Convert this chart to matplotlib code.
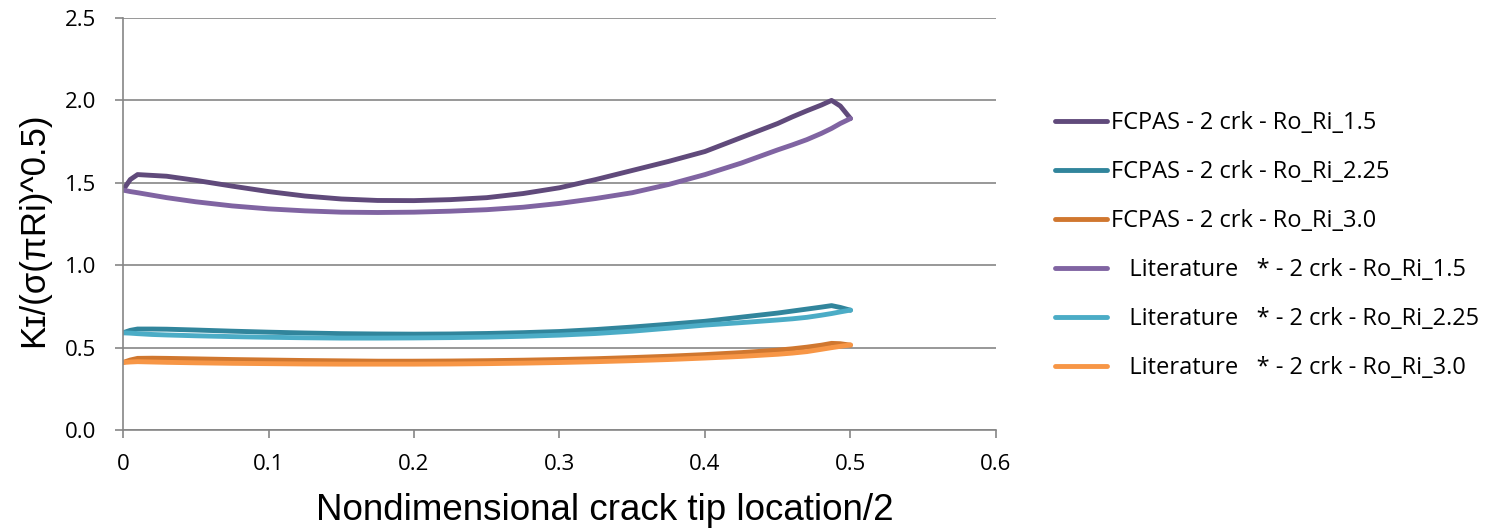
import matplotlib.pyplot as plt

# crack tip positions (shared by all series)
x = [0, 0.005, 0.01, 0.02, 0.03, 0.05, 0.075, 0.1, 0.125, 0.15, 0.175, 0.2, 0.225, 0.25,
     0.275, 0.3, 0.325, 0.35, 0.375, 0.4, 0.425, 0.45, 0.46, 0.47, 0.48, 0.487, 0.493, 0.5]

fcpas_15 = [1.456, 1.52, 1.55, 1.545, 1.54, 1.515, 1.48, 1.447, 1.42, 1.402, 1.393, 1.392, 1.398, 1.41,
            1.435, 1.47, 1.52, 1.575, 1.63, 1.69, 1.775, 1.86, 1.9, 1.937, 1.972, 2.0, 1.966, 1.89]
fcpas_225 = [0.59, 0.605, 0.613, 0.613, 0.612, 0.607, 0.6, 0.594, 0.589, 0.585, 0.583, 0.582, 0.583, 0.586,
             0.591, 0.598, 0.61, 0.625, 0.642, 0.66, 0.685, 0.71, 0.722, 0.734, 0.746, 0.755, 0.744, 0.727]
fcpas_30 = [0.41, 0.425, 0.435, 0.436, 0.435, 0.432, 0.428, 0.425, 0.422, 0.42, 0.418, 0.418, 0.419, 0.421,
            0.424, 0.428, 0.433, 0.44, 0.448, 0.458, 0.47, 0.485, 0.493, 0.503, 0.515, 0.526, 0.524, 0.515]

lit_15 = [1.456, 1.447, 1.44, 1.425, 1.41, 1.385, 1.36, 1.342, 1.33, 1.322, 1.32, 1.322, 1.328, 1.337,
          1.352, 1.375, 1.405, 1.44, 1.49, 1.55, 1.62, 1.70, 1.73, 1.762, 1.80, 1.83, 1.86, 1.89]
lit_225 = [0.59, 0.588, 0.585, 0.58, 0.577, 0.572, 0.567, 0.563, 0.56, 0.558, 0.558, 0.559, 0.561, 0.564,
           0.569, 0.576, 0.586, 0.6, 0.618, 0.637, 0.652, 0.668, 0.675, 0.684, 0.697, 0.707, 0.717, 0.728]
lit_30 = [0.41, 0.413, 0.415, 0.413, 0.411, 0.408, 0.405, 0.403, 0.401, 0.4, 0.4, 0.4, 0.401, 0.403,
          0.406, 0.41, 0.415, 0.421, 0.428, 0.437, 0.447, 0.46, 0.467, 0.476, 0.49, 0.5, 0.508, 0.517]

series = [
    (fcpas_15, "FCPAS - 2 crk - Ro_Ri_1.5", "#604A7B"),
    (fcpas_225, "FCPAS - 2 crk - Ro_Ri_2.25", "#31859C"),
    (fcpas_30, "FCPAS - 2 crk - Ro_Ri_3.0", "#D0772F"),
    (lit_15, "   Literature   * - 2 crk - Ro_Ri_1.5", "#8064A2"),
    (lit_225, "   Literature   * - 2 crk - Ro_Ri_2.25", "#4BACC6"),
    (lit_30, "   Literature   * - 2 crk - Ro_Ri_3.0", "#F79646"),
]

fig = plt.figure(figsize=(14.91, 5.29), dpi=100)
ax = fig.add_axes([0.0825, 0.187, 0.5855, 0.779])

for ys, lab, col in series:
    ax.plot(x, ys, color=col, lw=3.5, label=lab, solid_capstyle="round", solid_joinstyle="round")

ax.set_xlim(0, 0.6)
ax.set_ylim(0, 2.5)
ax.set_xticks([0, 0.1, 0.2, 0.3, 0.4, 0.5, 0.6])
ax.set_xticklabels(["0", "0.1", "0.2", "0.3", "0.4", "0.5", "0.6"])
ax.set_yticks([0, 0.5, 1.0, 1.5, 2.0, 2.5])
ax.set_yticklabels(["0.0", "0.5", "1.0", "1.5", "2.0", "2.5"])
ax.grid(axis="y", color="#868686", lw=1.2)
ax.set_axisbelow(True)
for s in ["top", "right"]:
    ax.spines[s].set_visible(False)
for s in ["left", "bottom"]:
    ax.spines[s].set_color("#868686")
    ax.spines[s].set_linewidth(1.2)
ax.tick_params(colors="#868686", length=6, width=1.2, labelcolor="black", labelsize=16)
for t in ax.get_xticklabels() + ax.get_yticklabels():
    t.set_family("Open Sans")
ax.tick_params(axis="x", pad=11)
ax.tick_params(axis="y", pad=13)

ax.set_xlabel("Nondimensional crack tip location/2", fontsize=26.5, family="Liberation Sans")
ax.xaxis.set_label_coords(0.552, -0.152)
ax.set_ylabel("K\u026a/(\u03c3(\u03c0Ri)^0.5)", fontsize=25, family=["Liberation Sans", "DejaVu Sans"])
ax.yaxis.set_label_coords(-0.0836, 0.485)

fig.legend(loc="center left", bbox_to_anchor=(0.7076, 0.536), frameon=False,
           prop={"family": "Open Sans", "size": 17}, handlelength=2.2, handletextpad=0.17,
           labelspacing=1.06, borderpad=0, borderaxespad=0)

fig.savefig("out.png", dpi=100)
